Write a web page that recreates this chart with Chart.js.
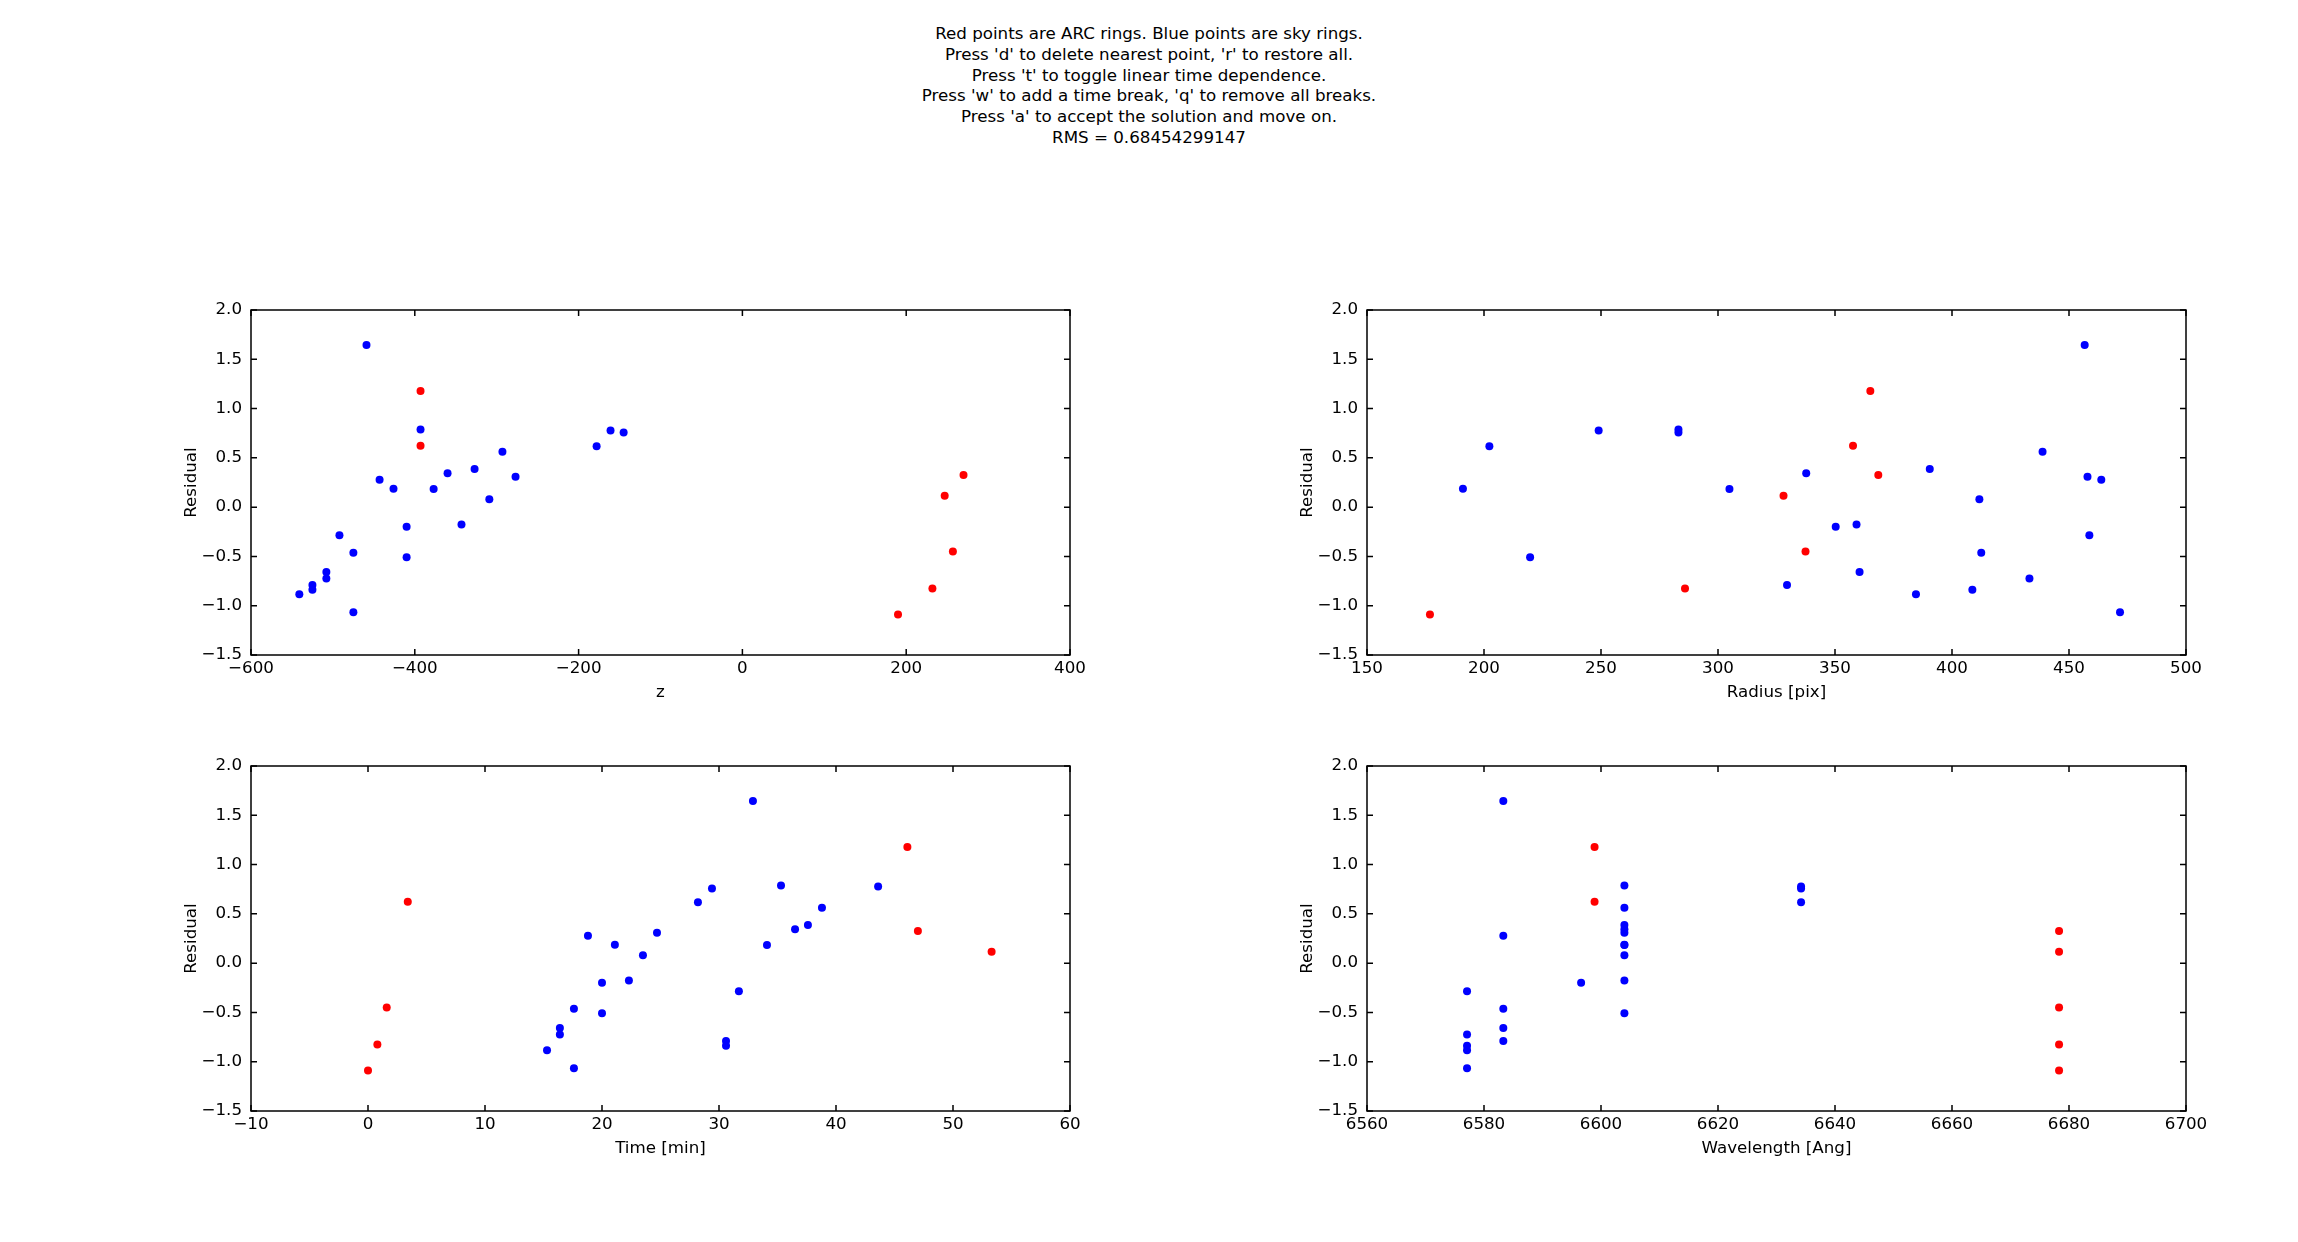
<!DOCTYPE html>
<html>
<head>
<meta charset="utf-8">
<title>Residuals</title>
<script src="https://cdn.jsdelivr.net/npm/chart.js@4.4.1/dist/chart.umd.min.js"></script>
<style>
  body { margin: 0; background: #fff; }
  #fig { position: relative; width: 2298px; height: 1242px; background: #fff; overflow: hidden; }
  #suptitle {
    position: absolute; left: 0; top: 23px; width: 2298px;
    text-align: center; font-family: "DejaVu Sans", sans-serif;
    font-size: 16.7px; line-height: 20.8px; color: #000;
  }
  canvas { position: absolute; }
</style>
</head>
<body>
<div id="fig">
  <div id="suptitle">
    Red points are ARC rings. Blue points are sky rings.<br>
    Press 'd' to delete nearest point, 'r' to restore all.<br>
    Press 't' to toggle linear time dependence.<br>
    Press 'w' to add a time break, 'q' to remove all breaks.<br>
    Press 'a' to accept the solution and move on.<br>
    RMS = 0.68454299147
  </div>
  <canvas id="plotZ" width="959" height="435" style="left:141px; top:290px;"></canvas>
  <canvas id="plotRadius" width="959" height="435" style="left:1257px; top:290px;"></canvas>
  <canvas id="plotTime" width="959" height="435" style="left:141px; top:746px;"></canvas>
  <canvas id="plotWave" width="959" height="435" style="left:1257px; top:746px;"></canvas>
</div>

<script>
// sky rings (blue points)
var skyResidual = [1.644, 0.788, 0.778, 0.758, 0.619, 0.561, 0.386, 0.345, 0.308, 0.277, 0.186, 0.183,
                   0.081, -0.176, -0.198, -0.286, -0.463, -0.509, -0.658, -0.724, -0.790, -0.839, -0.884, -1.067];
var skyZ = [-459, -393, -161, -145, -178, -293, -327, -360, -277, -443, -426, -377,
            -309, -343, -410, -492, -475, -410, -508, -508, -525, -525, -541, -475];
var skyRadius = [456.7, 283.1, 249.0, 283.1, 202.3, 438.7, 390.5, 337.7, 457.9, 463.8, 191.0, 304.9,
                 411.7, 359.2, 350.3, 458.7, 412.5, 219.7, 360.5, 433.1, 329.5, 408.7, 384.6, 471.8];
var skyTime = [32.9, 35.3, 43.6, 29.4, 28.2, 38.8, 37.6, 36.5, 24.7, 18.8, 21.1, 34.1,
               23.5, 22.3, 20.0, 31.7, 17.6, 20.0, 16.4, 16.4, 30.6, 30.6, 15.3, 17.6];
var skyWave = [6583.3, 6604.0, 6634.2, 6634.2, 6634.2, 6604.0, 6604.0, 6604.0, 6604.0, 6583.3, 6604.0, 6604.0,
               6604.0, 6604.0, 6596.6, 6577.1, 6583.3, 6604.0, 6583.3, 6577.1, 6583.3, 6577.1, 6577.1, 6577.1];

// ARC rings (red points)
var arcResidual = [-1.089, -0.825, -0.450, 0.622, 1.177, 0.325, 0.115];
var arcZ = [190, 232, 257, -393, -393, 270, 247];
var arcRadius = [176.9, 285.9, 337.4, 357.7, 365.1, 368.5, 328.0];
var arcTime = [0.0, 0.8, 1.6, 3.4, 46.1, 47.0, 53.3];
var arcWave = [6678.3, 6678.3, 6678.3, 6598.9, 6598.9, 6678.3, 6678.3];

// axis ranges: [min, max, step]
var zRange = [-600, 400, 200];
var radiusRange = [150, 500, 50];
var timeRange = [-10, 60, 10];
var waveRange = [6560, 6700, 20];
var residualRange = [-1.5, 2.0, 0.5];

Chart.defaults.font.family = "'DejaVu Sans', sans-serif";
Chart.defaults.font.size = 16.7;
Chart.defaults.color = '#000';

function minusSign(s) {
    return String(s).replace('-', '\u2212');
}

function toPoints(xs, ys) {
    return xs.map(function(x, i) { return {x: x, y: ys[i]}; });
}

// matplotlib style box with inward ticks on all four sides
var framePlugin = {
    id: 'frame',
    afterDraw: function(chart) {
        var ctx = chart.ctx;
        var a = chart.chartArea;
        var xs = chart.scales.x;
        var ys = chart.scales.y;
        var len = 6;
        ctx.save();
        ctx.strokeStyle = '#000';
        ctx.lineWidth = 1.5;
        ctx.beginPath();
        xs.ticks.forEach(function(t) {
            var px = xs.getPixelForValue(t.value);
            ctx.moveTo(px, a.bottom); ctx.lineTo(px, a.bottom - len);
            ctx.moveTo(px, a.top); ctx.lineTo(px, a.top + len);
        });
        ys.ticks.forEach(function(t) {
            var py = ys.getPixelForValue(t.value);
            ctx.moveTo(a.left, py); ctx.lineTo(a.left + len, py);
            ctx.moveTo(a.right, py); ctx.lineTo(a.right - len, py);
        });
        ctx.stroke();
        ctx.strokeRect(a.left, a.top, a.right - a.left, a.bottom - a.top);
        ctx.restore();
    }
};

function makePlot(id, skyX, arcX, range, label, decimals) {
    var ctx = document.getElementById(id).getContext('2d');
    return new Chart(ctx, {
        type: 'scatter',
        data: {
            datasets: [
                {
                    label: 'sky',
                    data: toPoints(skyX, skyResidual),
                    backgroundColor: '#0000ff',
                    borderWidth: 0,
                    pointRadius: 4
                },
                {
                    label: 'ARC',
                    data: toPoints(arcX, arcResidual),
                    backgroundColor: '#ff0000',
                    borderWidth: 0,
                    pointRadius: 4
                }
            ]
        },
        options: {
            responsive: false,
            animation: false,
            devicePixelRatio: 1,
            layout: { padding: { top: 20, right: 30, left: 0, bottom: 0 } },
            plugins: { legend: { display: false }, tooltip: { enabled: false } },
            scales: {
                x: {
                    type: 'linear',
                    min: range[0],
                    max: range[1],
                    grid: { display: false, drawTicks: false },
                    border: { display: false },
                    ticks: {
                        stepSize: range[2],
                        padding: 4,
                        maxRotation: 0,
                        autoSkip: false,
                        callback: function(v) { return minusSign(v.toFixed(decimals)); }
                    },
                    title: { display: true, text: label, padding: { top: 4, bottom: 22 } },
                    afterFit: function(scale) { scale.height = 70; }
                },
                y: {
                    type: 'linear',
                    min: residualRange[0],
                    max: residualRange[1],
                    grid: { display: false, drawTicks: false },
                    border: { display: false },
                    ticks: {
                        stepSize: residualRange[2],
                        padding: 9,
                        autoSkip: false,
                        callback: function(v) { return minusSign(v.toFixed(1)); }
                    },
                    title: { display: true, text: 'Residual', padding: { top: 41, bottom: 4 } },
                    afterFit: function(scale) { scale.width = 110; }
                }
            }
        },
        plugins: [framePlugin]
    });
}

makePlot('plotZ', skyZ, arcZ, zRange, 'z', 0);
makePlot('plotRadius', skyRadius, arcRadius, radiusRange, 'Radius [pix]', 0);
makePlot('plotTime', skyTime, arcTime, timeRange, 'Time [min]', 0);
makePlot('plotWave', skyWave, arcWave, waveRange, 'Wavelength [Ang]', 0);
</script>
</body>
</html>
